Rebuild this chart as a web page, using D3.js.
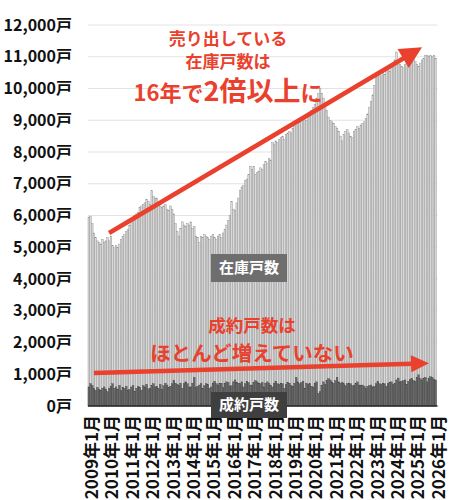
<!DOCTYPE html>
<html><head><meta charset="utf-8">
<script src="https://cdn.jsdelivr.net/npm/d3@7"></script>
<style>
html,body{margin:0;padding:0;background:#fff;}
svg{display:block;font-family:"Noto Sans CJK JP","Noto Sans",sans-serif;}
</style></head>
<body><svg id="c" width="450" height="500"></svg>
<script>
// ---- data ----
const years = [2009,2010,2011,2012,2013,2014,2015,2016,2017,2018,2019,2020,2021,2022,2023,2024,2025,2026];
const inventory = [
 5950,5980,5750,5450,5300,5200,5150,5100,5250,5150,5200,5300,
 5200,5350,5050,4980,5050,5000,5100,5250,5350,5400,5500,5550,
 5700,5800,5900,6000,6050,6100,6250,6300,6350,6400,6500,6450,
 6350,6780,6600,6550,6550,6400,6300,6250,6300,6350,6200,6150,
 6300,6200,6050,5750,5500,5350,5600,5800,5700,5650,5750,5700,
 5800,5600,5650,5350,5300,5150,5350,5300,5400,5350,5300,5250,
 5350,5400,5300,5250,5350,5400,5300,5450,5550,5700,5850,6000,
 6450,6200,6150,6400,6550,6800,6900,6950,7100,7150,7300,7550,
 7450,7550,7300,7350,7400,7500,7450,7600,7700,7650,7800,7750,
 8300,8250,8350,8300,8400,8450,8500,8400,8550,8600,8650,8600,
 8750,8800,8850,8900,8950,9000,9050,9100,9000,9150,9250,9300,
 9400,9500,9700,9850,10000,9850,9700,9450,9300,9100,9000,8950,
 8900,8800,8750,8650,8500,8350,8550,8650,8700,8600,8500,8450,
 8650,8700,8800,8750,8850,8900,8950,9050,9200,9400,9600,9800,
 10100,10350,10400,10450,10400,10500,10450,10550,10600,10550,10650,10700,
 10900,11150,10850,10750,10700,10650,10750,10850,10900,11050,11000,10950,
 10850,10750,10700,10800,10900,10950,11050,11050,11000,11050,11000,11050,
 10950
];
const contracts = [
 600,700,650,550,500,580,520,480,560,600,520,450,
 560,620,700,560,600,520,650,480,580,560,620,500,
 520,600,640,450,560,620,580,500,640,600,680,540,
 560,640,700,600,620,560,680,520,640,720,660,580,
 620,700,800,720,680,640,720,560,700,760,700,600,
 600,720,900,580,620,660,700,560,640,700,680,560,
 600,720,780,700,660,700,720,580,700,760,740,620,
 640,760,820,740,720,700,760,600,700,780,740,660,
 660,740,800,760,720,700,740,600,720,760,700,640,
 600,720,780,700,680,720,700,560,680,740,720,640,
 620,720,900,760,700,740,780,560,720,680,700,620,
 600,720,760,400,450,640,760,680,800,860,820,760,
 720,800,900,760,720,740,700,640,700,720,700,640,
 640,700,760,660,640,660,620,560,620,640,660,600,
 620,700,780,700,680,720,700,620,700,740,760,680,
 700,820,880,760,780,800,820,680,780,840,860,800,
 780,900,980,860,820,880,900,760,860,920,900,840,
 820
];
const yTicks = [0,1000,2000,3000,4000,5000,6000,7000,8000,9000,10000,11000,12000];
const yTickLabels = ["0戸","1,000戸","2,000戸","3,000戸","4,000戸","5,000戸","6,000戸","7,000戸","8,000戸","9,000戸","10,000戸","11,000戸","12,000戸"];
const xTickLabels = ["2009年1月","2010年1月","2011年1月","2012年1月","2013年1月","2014年1月","2015年1月","2016年1月","2017年1月","2018年1月","2019年1月","2020年1月","2021年1月","2022年1月","2023年1月","2024年1月","2025年1月","2026年1月"];
// annotation arrows in data space: [monthIndex, value]
const arrowUp = {from:[12.4,5450], to:[196.5,11300]};
const arrowFlat = {from:[3.5,1040], to:[200.6,1350]};

// ---- build ----
const months = [];
years.forEach(y => { for (let m=1;m<=12;m++){ if (y===2026 && m>1) break; months.push(y+"-"+m); } });
const rows = months.map((k,i)=>({k, inv:inventory[i], con:contracts[i]}));

const L=88, R=436.5, T=25, B=406;
const svg = d3.select("#c");
const x = d3.scaleBand().domain(months).range([L,R]).padding(0);
const xi = d3.scaleLinear().domain([0,months.length]).range([L,R]);
const y = d3.scaleLinear().domain([0,12000]).range([B,T]);
const red = "#e9412d";

// grid
svg.append("g").selectAll("line").data(yTicks.slice(1)).join("line")
  .attr("x1",L).attr("x2",R+1).attr("y1",d=>y(d)).attr("y2",d=>y(d))
  .attr("stroke","#e3e3e3").attr("stroke-width",1);

// inventory bars
svg.append("g").selectAll("rect").data(rows).join("rect")
  .attr("x",d=>x(d.k)).attr("width",x.bandwidth())
  .attr("y",d=>y(d.inv)).attr("height",d=>B-y(d.inv))
  .attr("fill","#d9d9d9").attr("stroke","#8e8e8e").attr("stroke-width",0.4);

// contract bars
svg.append("g").selectAll("rect").data(rows).join("rect")
  .attr("x",d=>x(d.k)).attr("width",x.bandwidth())
  .attr("y",d=>y(d.con)).attr("height",d=>B-y(d.con))
  .attr("fill","#6a6a6a").attr("stroke","#3c3c3c").attr("stroke-width",0.35);

// axis line
svg.append("line").attr("x1",L).attr("x2",R+1).attr("y1",B).attr("y2",B)
  .attr("stroke","#2a2a2a").attr("stroke-width",1.6);

// y axis labels
const yAxis = d3.axisLeft(y).tickValues(yTicks).tickSize(0).tickPadding(16)
  .tickFormat((d,i)=>yTickLabels[i]);
const gy = svg.append("g").attr("transform",`translate(${L},0)`).call(yAxis);
gy.select(".domain").remove();
gy.selectAll("text").attr("font-size",16).attr("font-weight","bold").attr("fill","#111")
  .attr("font-family","'Noto Sans CJK JP',sans-serif");

// x axis labels (each January)
const janKeys = years.map(yv=>yv+"-1");
const xAxis = d3.axisBottom(x).tickValues(janKeys).tickSize(0).tickFormat((d,i)=>xTickLabels[i]);
const gx = svg.append("g").attr("transform",`translate(0,${B})`).call(xAxis);
gx.select(".domain").remove();
gx.selectAll("text").attr("font-size",17).attr("font-weight","bold").attr("fill","#111")
  .attr("font-family","'Noto Sans CJK JP',sans-serif")
  .attr("text-anchor","end").attr("dy","0.36em")
  .attr("transform","translate(3,9) rotate(-90)").attr("x",0).attr("y",0);

// arrows
function arrow(a, w, hl, hw){
  const x1=xi(a.from[0]), y1=y(a.from[1]), x2=xi(a.to[0]), y2=y(a.to[1]);
  const dx=x2-x1, dy=y2-y1, len=Math.hypot(dx,dy), ux=dx/len, uy=dy/len, nx=-uy, ny=ux;
  const bx=x2-ux*hl, by=y2-uy*hl;
  svg.append("line").attr("x1",x1).attr("y1",y1).attr("x2",bx+ux*1).attr("y2",by+uy*1)
    .attr("stroke",red).attr("stroke-width",w);
  svg.append("path").attr("d",`M${x2},${y2}L${bx+nx*hw},${by+ny*hw}L${bx-nx*hw},${by-ny*hw}Z`)
    .attr("fill",red);
}
arrow(arrowUp, 4.5, 22, 11);
arrow(arrowFlat, 4.5, 18, 8.5);

// annotation texts
function txt(xp, yp, size, s, color, weight){
  return svg.append("text").attr("x",xp).attr("y",yp).attr("text-anchor","middle")
    .attr("font-size",size).attr("font-weight",weight||"bold").attr("fill",color||red).text(s);
}
txt(228,45,17,"売り出している");
txt(228,68,17,"在庫戸数は");
const t3 = svg.append("text").attr("x",228).attr("y",101).attr("text-anchor","middle")
  .attr("font-weight","bold").attr("fill",red);
t3.append("tspan").attr("font-size",22).text("16年で");
t3.append("tspan").attr("font-size",27).text("2倍以上");
t3.append("tspan").attr("font-size",22).text("に");

txt(252,332,17.5,"成約戸数は");
txt(252,361,20.5,"ほとんど増えていない");

// boxed labels
function box(cx, cy, w, h, fill, s){
  svg.append("rect").attr("x",cx-w/2).attr("y",cy-h/2).attr("width",w).attr("height",h).attr("fill",fill);
  svg.append("text").attr("x",cx).attr("y",cy).attr("dy","0.36em").attr("text-anchor","middle")
    .attr("font-size",15).attr("font-weight","bold").attr("fill","#fff").text(s);
}
box(249,268,76,28,"#6e6e6e","在庫戸数");
box(249,405,76,26,"#3f3f3f","成約戸数");
</script></body></html>
